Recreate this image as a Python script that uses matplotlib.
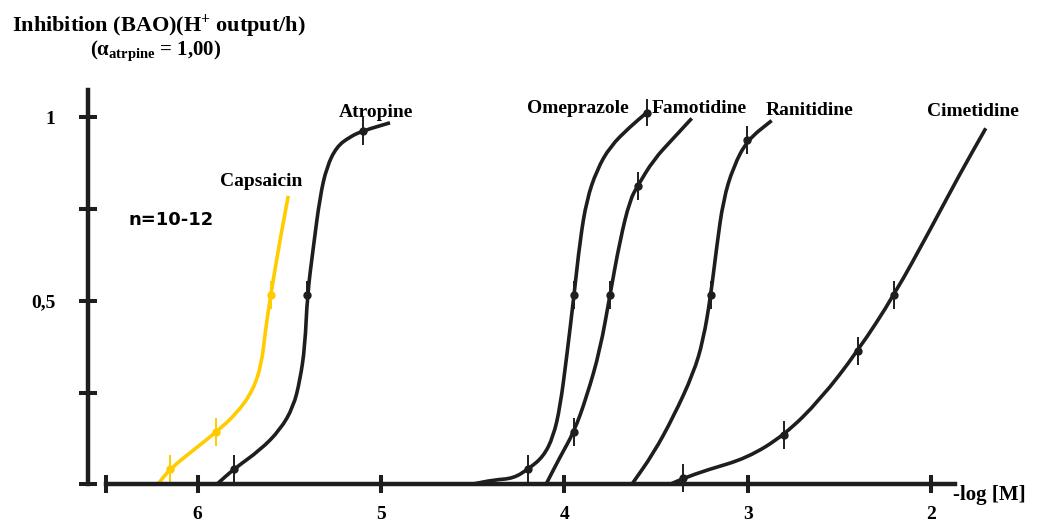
import numpy as np
import matplotlib
matplotlib.use("Agg")
import matplotlib.pyplot as plt
from matplotlib.path import Path
from matplotlib.patches import PathPatch

plt.rcParams["mathtext.fontset"] = "custom"
plt.rcParams["mathtext.rm"] = "Liberation Serif:bold"
plt.rcParams["mathtext.bf"] = "Liberation Serif:bold"
plt.rcParams["mathtext.it"] = "Liberation Serif:bold"

# traced curves, x = -log[M], y = inhibition
caps_x = [6.218, 6.151, 6.024, 5.900, 5.787, 5.697, 5.651, 5.633, 5.602, 5.551, 5.506]
caps_y = [0.0, 0.042, 0.093, 0.142, 0.193, 0.257, 0.330, 0.411, 0.516, 0.666, 0.786]

atro_x = [5.896, 5.802, 5.660, 5.551, 5.478, 5.442, 5.415, 5.402, 5.369, 5.333, 5.296, 5.242, 5.169, 5.100, 4.951]
atro_y = [0.0, 0.042, 0.093, 0.148, 0.211, 0.284, 0.375, 0.516, 0.647, 0.784, 0.865, 0.920, 0.947, 0.963, 0.985]

omep_x = [4.505, 4.387, 4.278, 4.196, 4.115, 4.060, 4.023, 3.987, 3.947, 3.914, 3.878, 3.823, 3.751, 3.642, 3.550]
omep_y = [0.0, 0.012, 0.016, 0.042, 0.075, 0.130, 0.211, 0.348, 0.516, 0.666, 0.775, 0.856, 0.920, 0.974, 1.013]

famo_x = [4.100, 4.023, 3.947, 3.878, 3.805, 3.751, 3.696, 3.642, 3.600, 3.514, 3.405, 3.305]
famo_y = [0.0, 0.075, 0.143, 0.239, 0.366, 0.516, 0.666, 0.775, 0.813, 0.884, 0.943, 0.997]

rani_x = [3.632, 3.514, 3.405, 3.296, 3.242, 3.201, 3.169, 3.133, 3.078, 3.002, 2.869]
rani_y = [0.0, 0.084, 0.184, 0.302, 0.393, 0.516, 0.647, 0.775, 0.865, 0.938, 0.991]

cime_x = [3.423, 3.351, 3.223, 3.005, 2.800, 2.605, 2.399, 2.200, 2.005, 1.841, 1.701]
cime_y = [0.0, 0.016, 0.039, 0.071, 0.134, 0.230, 0.363, 0.516, 0.693, 0.847, 0.970]

# measured points (mean +/- error)
caps_px = [6.151, 5.900, 5.602]
caps_py = [0.042, 0.142, 0.516]
black_px = [5.802, 5.402, 5.100, 4.196, 3.947, 3.550, 3.947, 3.751, 3.600,
            3.201, 3.002, 3.351, 2.800, 2.399, 2.200]
black_py = [0.042, 0.516, 0.963, 0.042, 0.516, 1.013, 0.143, 0.516, 0.813,
            0.516, 0.938, 0.016, 0.134, 0.363, 0.516]
err = 0.038

xticks = [6.5, 6, 5, 4, 3, 2]
xlabels = ["", "6", "5", "4", "3", "2"]
yticks = [0, 0.25, 0.5, 0.75, 1]
ylabels = ["", "", "0,5", "", "1"]

dark = "#1e1e1e"
yellow = "#FFCC00"
serif = "Liberation Serif"


def smooth_curve(ax, xs, ys, color, lw):
    # quadratic bezier through segment midpoints, traced points as controls
    pts = list(zip(xs, ys))
    verts = [pts[0]]
    codes = [Path.MOVETO]
    mid = lambda a, b: ((a[0] + b[0]) / 2, (a[1] + b[1]) / 2)
    verts.append(mid(pts[0], pts[1]))
    codes.append(Path.LINETO)
    for i in range(1, len(pts) - 1):
        verts += [pts[i], mid(pts[i], pts[i + 1])]
        codes += [Path.CURVE3, Path.CURVE3]
    verts.append(pts[-1])
    codes.append(Path.LINETO)
    ax.add_patch(PathPatch(Path(verts, codes), fill=False, edgecolor=color,
                           lw=lw, capstyle="butt", joinstyle="round"))


fig = plt.figure(figsize=(10.47, 5.22), dpi=100)
ax = fig.add_axes([0, 0, 1, 1])
ax.set_xlim(7.0786, 1.367)
ax.set_ylim(-0.1027, 1.3196)
ax.patch.set_alpha(0)

for s in ["top", "right"]:
    ax.spines[s].set_visible(False)
ax.spines["left"].set_position(("data", 6.598))
ax.spines["left"].set_bounds(0, 1.074)
ax.spines["bottom"].set_position(("data", 0))
ax.spines["bottom"].set_bounds(1.869, 6.5)
for s in ["left", "bottom"]:
    ax.spines[s].set_linewidth(3.2)
    ax.spines[s].set_color(dark)

ax.set_xticks(xticks)
ax.set_xticklabels(xlabels)
ax.set_yticks(yticks)
ax.set_yticklabels(ylabels)
ax.tick_params(direction="inout", length=13, width=2.9, color=dark)
ax.tick_params(axis="y", pad=17)
ax.tick_params(axis="x", pad=9)
for lab in ax.get_xticklabels() + ax.get_yticklabels():
    lab.set_fontfamily(serif)
    lab.set_fontweight("bold")
    lab.set_fontsize(14)

lw = 2.6
smooth_curve(ax, caps_x, caps_y, yellow, lw)
for cx, cy in [(atro_x, atro_y), (omep_x, omep_y), (famo_x, famo_y),
               (rani_x, rani_y), (cime_x, cime_y)]:
    smooth_curve(ax, cx, cy, dark, lw)

ax.errorbar(caps_px, caps_py, yerr=err, fmt="o", ms=5, color=yellow, elinewidth=1.4, capsize=0)
ax.errorbar(black_px, black_py, yerr=err, fmt="o", ms=5, color=dark, elinewidth=1.4, capsize=0)

lab_kw = dict(family=serif, fontweight="bold", fontsize=14, ha="center", va="center")
ax.text(5.025, 1.014, "Atropine", **lab_kw)
ax.text(5.655, 0.824, "Capsaicin", **lab_kw)
ax.text(3.925, 1.023, "Omeprazole", **lab_kw)
ax.text(3.265, 1.023, "Famotidine", **lab_kw)
ax.text(2.660, 1.018, "Ranitidine", **lab_kw)
ax.text(1.770, 1.017, "Cimetidine", **lab_kw)
ax.text(6.380, 0.720, "n=10-12", family="DejaVu Sans", fontweight="bold",
        fontsize=13, ha="left", va="center")

fig.text(0.910, 1 - 495 / 522, "-log [M]", family=serif, fontweight="bold",
         fontsize=15, ha="left", va="center")
fig.text(0.1514, 1 - 26 / 522, r"Inhibition (BAO)(H$^{+}$ output/h)", family=serif,
         fontweight="bold", fontsize=16, ha="center", va="center")
fig.text(0.149, 1 - 51 / 522, r"($\alpha_{\mathrm{atrpine}}$ = 1,00)", family=serif,
         fontweight="bold", fontsize=15, ha="center", va="center")

fig.savefig("out.png", dpi=100)
